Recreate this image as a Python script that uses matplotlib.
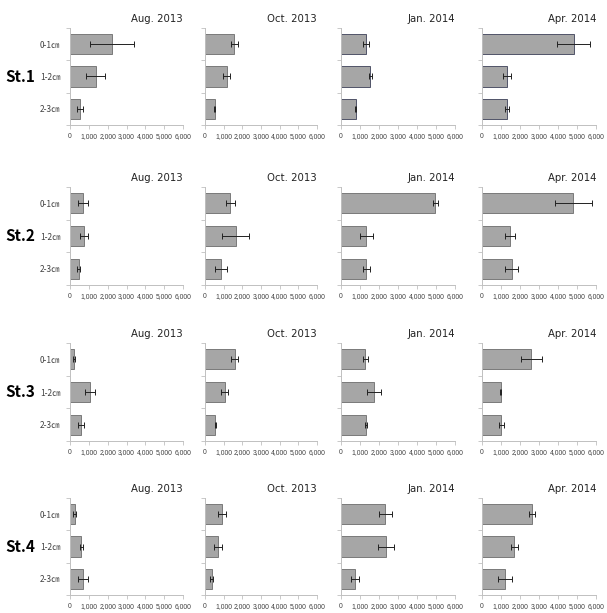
import matplotlib.pyplot as plt
import numpy as np

plt.rcParams['font.family'] = ['Noto Sans CJK KR', 'DejaVu Sans']

stations = ['St.1', 'St.2', 'St.3', 'St.4']
seasons = ['Aug. 2013', 'Oct. 2013', 'Jan. 2014', 'Apr. 2014']
depths = ['0-1㎝', '1-2㎝', '2-3㎝']
xticks = [0, 1000, 2000, 3000, 4000, 5000, 6000]

# mean values [station][season][depth]
st1_mean = [[2220, 1360, 530], [1570, 1160, 510], [1300, 1550, 770], [4820, 1320, 1320]]
st1_err = [[1170, 500, 150], [200, 200, 50], [150, 100, 30], [870, 220, 100]]
st2_mean = [[710, 760, 460], [1360, 1640, 840], [4970, 1330, 1330], [4810, 1470, 1560]]
st2_err = [[260, 210, 80], [230, 720, 330], [130, 330, 170], [960, 250, 350]]
st3_mean = [[220, 1080, 580], [1590, 1050, 560], [1270, 1740, 1320], [2600, 980, 1020]]
st3_err = [[40, 260, 160], [180, 180, 40], [130, 390, 70], [540, 30, 140]]
st4_mean = [[250, 610, 680], [920, 700, 360], [2340, 2390, 740], [2630, 1700, 1200]]
st4_err = [[90, 80, 260], [220, 230, 70], [350, 420, 210], [160, 190, 360]]

means = [st1_mean, st2_mean, st3_mean, st4_mean]
errs = [st1_err, st2_err, st3_err, st4_err]

W, H = 607, 613
fig = plt.figure(figsize=(W / 100, H / 100), dpi=100)

col_x = [(70, 183), (205, 317), (341, 455), (482, 596)]
row_y = [(28, 125), (187, 285), (343, 441), (498, 595)]

for r in range(4):
    top, bot = row_y[r]
    for c in range(4):
        left, right = col_x[c]
        ax = fig.add_axes([left / W, 1 - bot / H, (right - left) / W, (bot - top) / H])
        y = np.arange(3)
        edge = '#505468' if (r == 0 and c >= 2) else '#7a7a7a'
        ax.barh(y, means[r][c], height=0.62, color='#a6a6a6', edgecolor=edge, linewidth=0.7,
                xerr=errs[r][c], error_kw=dict(ecolor='#222222', elinewidth=0.7, capsize=2, capthick=0.7))
        ax.set_xlim(0, 6000)
        ax.set_ylim(2.5, -0.5)
        ax.set_xticks(xticks)
        ax.set_xticklabels(['{:,}'.format(v) for v in xticks], fontsize=4.9, color='#404040',
                           family=['Liberation Sans'])
        ax.set_yticks([-0.5, 0.5, 1.5, 2.5])
        ax.set_yticklabels([])
        ax.set_yticks(y, minor=True)
        if c == 0:
            ax.set_yticklabels(depths, minor=True, fontsize=6, color='#404040')
        ax.tick_params(axis='y', which='minor', length=0, pad=7)
        ax.tick_params(axis='y', which='major', length=3, color='#c0c0c0', width=0.6)
        ax.tick_params(axis='x', length=3, color='#c0c0c0', width=0.6, pad=3)
        for s in ['top', 'right']:
            ax.spines[s].set_visible(False)
        for s in ['left', 'bottom']:
            ax.spines[s].set_color('#c0c0c0')
            ax.spines[s].set_linewidth(0.7)
        ax.set_title(seasons[c], loc='right', fontsize=7.3, color='#222222', pad=4,
                     family=['DejaVu Sans'])
    fig.text(20 / W, 1 - ((top + bot) / 2) / H, stations[r], fontsize=11, fontweight='bold',
             ha='center', va='center')

fig.savefig('out.png', dpi=100)
